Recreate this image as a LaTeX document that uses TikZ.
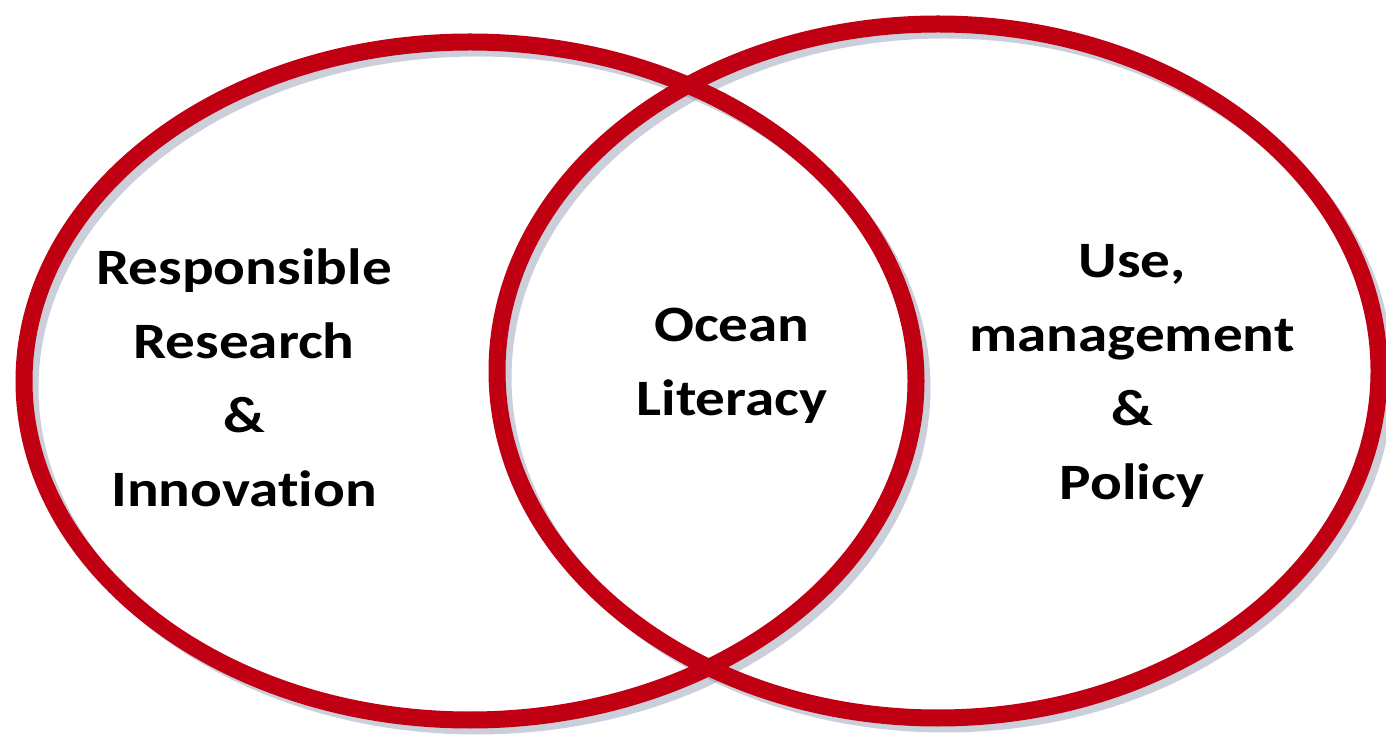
\documentclass[tikz,border=0pt]{standalone}
\usepackage{fontspec}
\setmainfont{Carlito}[FakeStretch=1.16, RawFeature={-liga}]
\usetikzlibrary{positioning}
\definecolor{ringred}{RGB}{192,0,18}
\definecolor{ringshade}{RGB}{140,150,172}
\tikzset{
  ring/.style={draw=ringred, line width=17pt},
  ringshadow/.style={draw=ringshade, line width=15pt, opacity=.45},
  venntext/.style={font=\fontsize{51}{74}\selectfont\bfseries, align=center, inner sep=0pt}
}

\begin{document}
\begin{tikzpicture}[x=1pt,y=1pt]
	\useasboundingbox (0,0) rectangle (1386,747);
	\fill[white] (0,0) rectangle (1386,747);
	% shadows
	\draw[ringshadow] (477,359) ellipse (446 and 339);
	\draw[ringshadow] (945,369) ellipse (441 and 347);
	% rings
	\draw[ring] (470,366) ellipse (446 and 339);
	\draw[ring] (938,376) ellipse (441 and 347);
	% texts
	\node[venntext] (rri) at (244,369) {Responsible\\Research\\\&\\Innovation};
	\node[venntext] (ocean) at (732,381) {Ocean\\Literacy};
	\node[venntext] (policy) at (1132,371) {Use,\\management\\\&\\Policy};
\end{tikzpicture}
\end{document}
